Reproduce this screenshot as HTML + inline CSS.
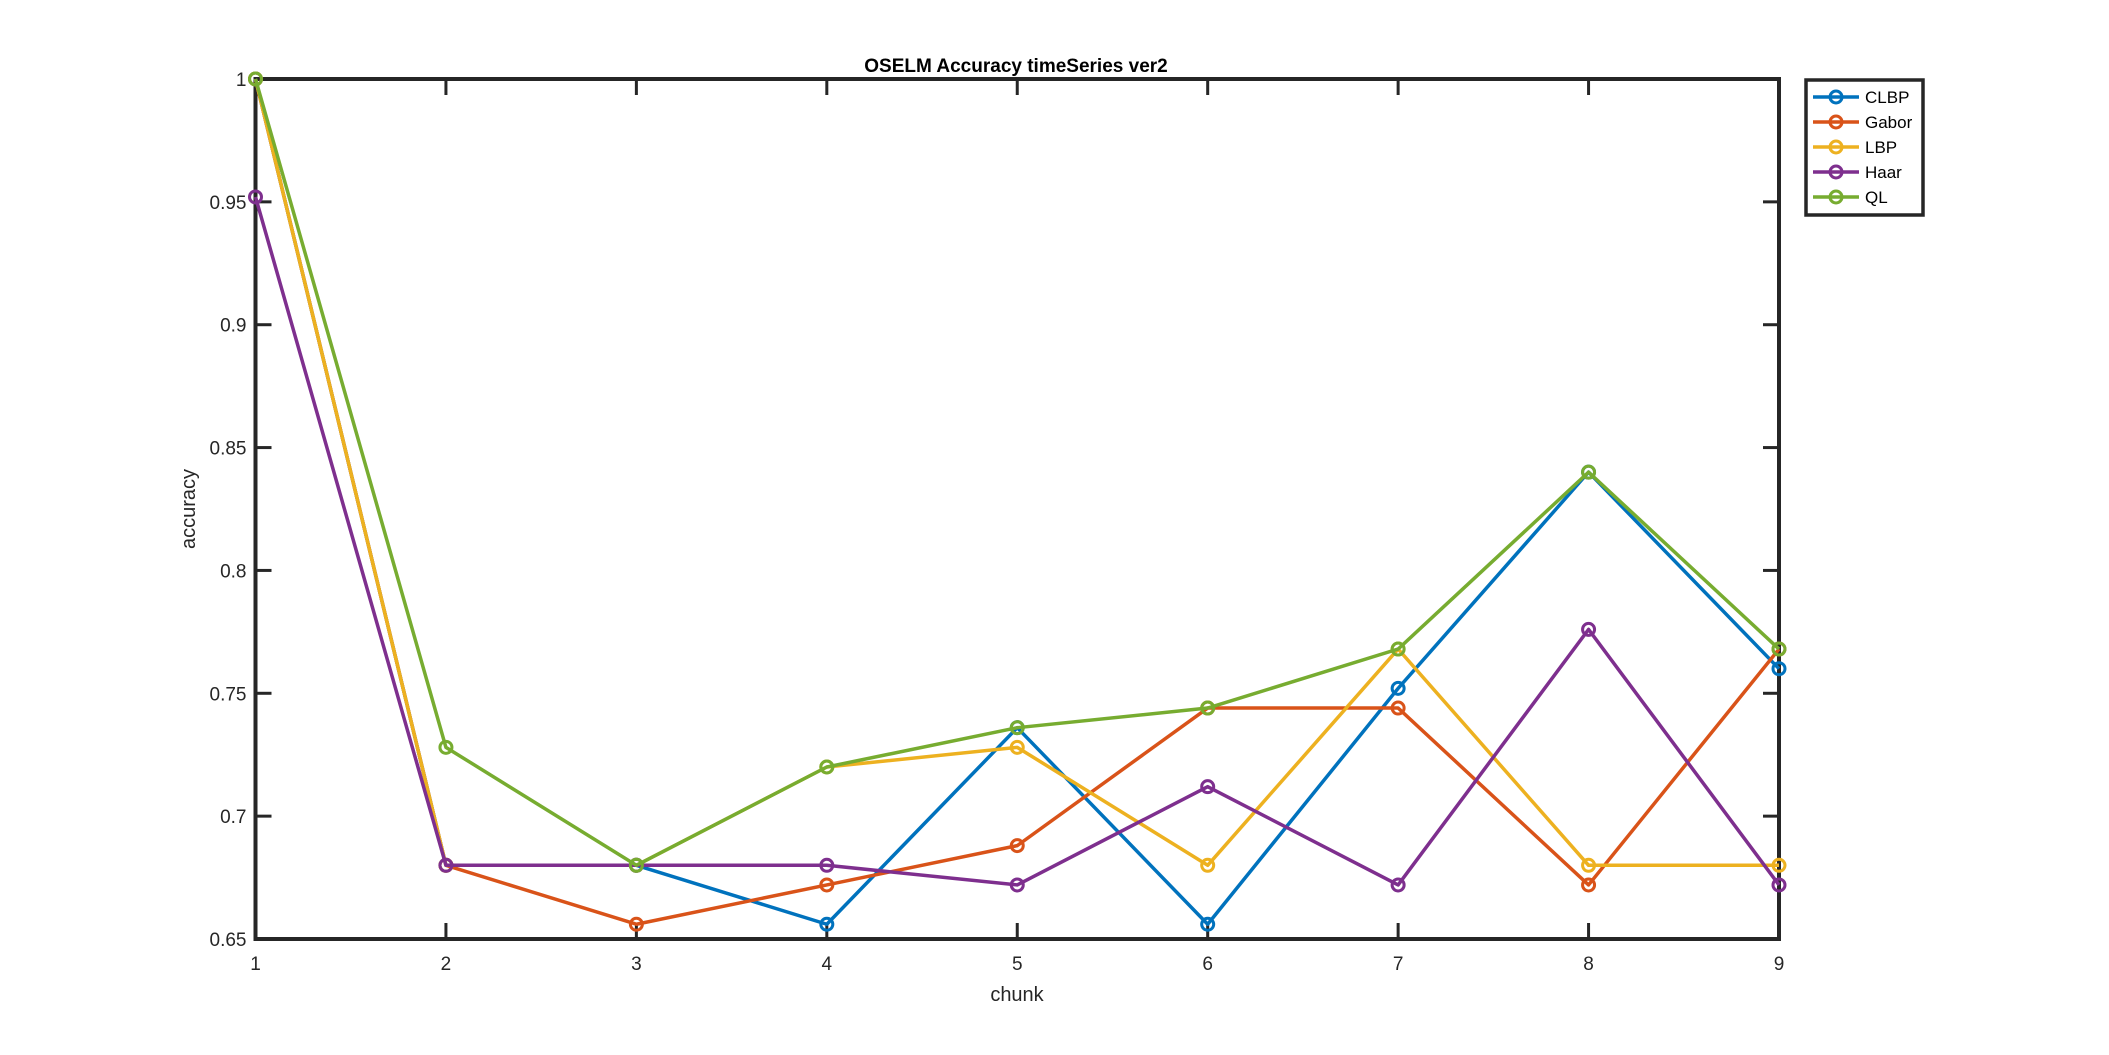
<!DOCTYPE html>
<html><head><meta charset="utf-8"><style>
html,body{margin:0;padding:0;background:#fff;}
svg{display:block;font-family:"Liberation Sans",Arial,sans-serif;}
</style></head><body>
<svg id="chart" width="2109" height="1055" viewBox="0 0 2109 1055" xmlns="http://www.w3.org/2000/svg">
<rect width="2109" height="1055" fill="#fff"/>
<g id="plot"></g>
</svg>
<script>
const categories = [1,2,3,4,5,6,7,8,9];
const yTicks = [0.65,0.7,0.75,0.8,0.85,0.9,0.95,1];
const yTickLabels = ["0.65","0.7","0.75","0.8","0.85","0.9","0.95","1"];
const seriesNames = ["CLBP","Gabor","LBP","Haar","QL"];
const seriesColors = ["#0072BD","#D95319","#EDB120","#7E2F8E","#77AC30"];
const clbp = [1,0.68,0.68,0.656,0.736,0.656,0.752,0.84,0.76];
const gabor = [1,0.68,0.656,0.672,0.688,0.744,0.744,0.672,0.768];
const lbp = [1,0.68,0.68,0.72,0.728,0.68,0.768,0.68,0.68];
const haar = [0.952,0.68,0.68,0.68,0.672,0.712,0.672,0.776,0.672];
const ql = [1,0.728,0.68,0.72,0.736,0.744,0.768,0.84,0.768];
const seriesData = [clbp,gabor,lbp,haar,ql];

const L=255.5,R=1779,T=79,B=939;
const xs=v=>L+(v-1)/(8)*(R-L);
const ys=v=>B-(v-0.65)/(0.35)*(B-T);
const NS="http://www.w3.org/2000/svg";
const g=document.getElementById('plot');
function mk(tag,attrs,parent){const e=document.createElementNS(NS,tag);for(const k in attrs)e.setAttribute(k,attrs[k]);(parent||g).appendChild(e);return e;}

// ticks
categories.forEach(c=>{
  const x=xs(c);
  const t1=mk('line',{x1:x,y1:B,x2:x,y2:B-16,stroke:'#262626','stroke-width':3});
  
  
  const t2=mk('line',{x1:x,y1:T,x2:x,y2:T+16,stroke:'#262626','stroke-width':3});
  
  
  const tx=mk('text',{x:x,y:B+31,'font-size':19,'text-anchor':'middle',fill:'#262626'});
  tx.textContent=String(c);
  
  
});
yTicks.forEach((v,i)=>{
  const y=ys(v);
  const t1=mk('line',{x1:L,y1:y,x2:L+16,y2:y,stroke:'#262626','stroke-width':3});
  
  
  const t2=mk('line',{x1:R,y1:y,x2:R-16,y2:y,stroke:'#262626','stroke-width':3});
  
  
  const tx=mk('text',{x:L-9,y:y+7,'font-size':19,'text-anchor':'end',fill:'#262626'});
  tx.textContent=yTickLabels[i];
  
  
});
// axes box
const box=mk('rect',{x:L,y:T,width:R-L,height:B-T,fill:'none',stroke:'#262626','stroke-width':4});



// series
seriesData.forEach((d,si)=>{
  const pts=d.map((v,i)=>xs(categories[i])+','+ys(v)).join(' ');
  const pl=mk('polyline',{points:pts,fill:'none',stroke:seriesColors[si],'stroke-width':3.5,'stroke-linejoin':'round'});
  
  
  d.forEach((v,i)=>{
    const c=mk('circle',{cx:xs(categories[i]),cy:ys(v),r:6,fill:'none',stroke:seriesColors[si],'stroke-width':3});
    
    
  });
});

// labels
const title=mk('text',{x:1016,y:72,'font-size':19,'font-weight':'bold','text-anchor':'middle',fill:'#000'});
title.textContent='OSELM Accuracy timeSeries ver2';


const xl=mk('text',{x:1017,y:1001,'font-size':20,'text-anchor':'middle',fill:'#262626'});
xl.textContent='chunk';


const yl=mk('text',{x:0,y:0,'font-size':20,'text-anchor':'middle',fill:'#262626',transform:'translate(195,509) rotate(-90)'});
yl.textContent='accuracy';



// legend
const lg=mk('g',{});


const lb=mk('rect',{x:1806,y:80,width:117,height:135,fill:'#fff',stroke:'#262626','stroke-width':3.5},lg);


seriesNames.forEach((n,i)=>{
  const y=97+i*25;
  const ln=mk('line',{x1:1813,y1:y,x2:1859,y2:y,stroke:seriesColors[i],'stroke-width':3.5},lg);
  
  
  const c=mk('circle',{cx:1836,cy:y,r:6,fill:'none',stroke:seriesColors[i],'stroke-width':3},lg);
  
  
  const t=mk('text',{x:1865,y:y+6,'font-size':17,fill:'#000'},lg);
  t.textContent=n;
  
  
});
</script>
</body></html>
